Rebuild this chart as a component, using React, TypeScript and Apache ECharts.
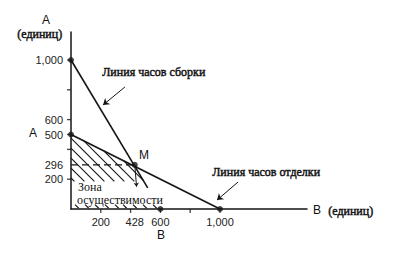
import React, { useEffect, useRef } from "react";
import * as echarts from "echarts";

// Data (units of A and B)
const assemblyLine: number[][] = [[0, 1000], [515, 142]]; // line of assembly hours (drawn part)
const finishingLine: number[][] = [[0, 500], [1000, 0]]; // line of finishing hours
const keyPoints: number[][] = [[0, 1000], [0, 500], [600, 0], [1000, 0], [428, 296]];
const optimumM: number[] = [428, 296];
const xLabelValues = [200, 428, 600, 1000];
const xTickValues = [200, 400, 600, 800, 1000];
const yLabelValues = [200, 296, 500, 600, 1000];
const yTickValues = [200, 400, 500, 600, 800, 1000];
const hatchOffsets = [208, 275, 342, 409, 476, 543, 610, 677];
const hatchBottomStarts = [27, 94, 161, 228, 295, 349, 416, 483, 550];
const arrowAssembly: number[][] = [[362, 819], [215, 698]];
const arrowFinishing: number[][] = [[1121, 181], [980, 60]];
const pointerM: number[][] = [[428, 296], [440, 150]];
const hatchFloor = 185;

function fmt(v: number): string {
  return v >= 1000 ? "1,000" : String(v);
}

function hatchSegments(): number[][][] {
  const segs: number[][][] = [];
  for (const c of hatchOffsets) {
    const x0 = c <= 500 ? 0 : 2 * (c - 500);
    const x1 = Math.min(c - hatchFloor, 1.5 * (1000 - c));
    if (x1 > x0) segs.push([[x0, c - x0], [x1, c - x1]]);
  }
  for (const s of hatchBottomStarts) {
    segs.push([[s, 30], [s + 25, 5]]);
  }
  return segs;
}

const sans = "'Liberation Sans', Arial, sans-serif";
const serif = "'Liberation Serif', 'DejaVu Serif', serif";

function txt(text: string, left: number, top: number, family: string, size: number, heavy: boolean = false) {
  return {
    type: "text",
    left,
    top,
    style: {
      text,
      fontFamily: family,
      fontSize: size,
      fill: "#111",
      stroke: heavy ? "#111" : undefined,
      lineWidth: heavy ? 0.45 : 0,
    },
  };
}

export default function App() {
  const ref = useRef<HTMLDivElement>(null);
  useEffect(() => {
    if (!ref.current) return;
    const chart = echarts.init(ref.current, null, { renderer: "svg" });
    const ink = "#151515";
    chart.setOption({
      animation: false,
      backgroundColor: "#ffffff",
      grid: { left: 71, top: 32, right: 103, bottom: 54 },
      xAxis: {
        type: "value",
        min: 0,
        max: 1584,
        splitLine: { show: false },
        axisLine: { lineStyle: { color: ink, width: 1.5 } },
        axisTick: { show: false },
        axisLabel: {
          customValues: xLabelValues,
          formatter: (v: number) => fmt(v),
          color: "#222",
          fontFamily: sans,
          fontSize: 11,
          margin: 7,
        },
      },
      yAxis: {
        type: "value",
        min: 0,
        max: 1188,
        splitLine: { show: false },
        axisLine: { lineStyle: { color: ink, width: 1.5 } },
        axisTick: { show: false },
        axisLabel: {
          customValues: yLabelValues,
          formatter: (v: number) => fmt(v),
          color: "#222",
          fontFamily: sans,
          fontSize: 11,
          margin: 8,
        },
      },
      series: [
        {
          type: "scatter",
          silent: true,
          data: xTickValues.map((v) => [v, 0]),
          symbol: "rect",
          symbolSize: [1.3, 4],
          symbolOffset: [0, 2],
          itemStyle: { color: ink },
        },
        {
          type: "scatter",
          silent: true,
          data: yTickValues.map((v) => [0, v]),
          symbol: "rect",
          symbolSize: [4, 1.3],
          symbolOffset: [-2, 0],
          itemStyle: { color: ink },
        },
        {
          type: "lines",
          coordinateSystem: "cartesian2d",
          silent: true,
          lineStyle: { color: ink, width: 1.1, opacity: 1 },
          data: hatchSegments().map((s) => ({ coords: s })),
        },
        {
          type: "line",
          data: [[0, optimumM[1]], optimumM],
          symbol: "none",
          lineStyle: { color: ink, width: 1.2, type: [7, 4] },
        },
        {
          type: "line",
          data: assemblyLine,
          symbol: "none",
          lineStyle: { color: ink, width: 1.6 },
        },
        {
          type: "line",
          data: finishingLine,
          symbol: "none",
          lineStyle: { color: ink, width: 1.6 },
        },
        {
          type: "lines",
          coordinateSystem: "cartesian2d",
          silent: true,
          symbol: ["none", "arrow"],
          symbolSize: 6,
          lineStyle: { color: ink, width: 1, opacity: 1 },
          data: [
            { coords: arrowAssembly },
            { coords: arrowFinishing },
            { coords: pointerM, symbolSize: 4 },
          ],
        },
        {
          type: "scatter",
          data: keyPoints,
          symbol: "circle",
          symbolSize: 6,
          itemStyle: { color: ink },
          z: 5,
        },
      ],
      graphic: [
        txt("A", 42, 14, sans, 12),
        txt("(единиц)", 17, 28, serif, 12, true),
        txt("A", 29, 127, sans, 12),
        txt("B", 313, 204, sans, 12),
        txt("(единиц)", 328, 205, serif, 12, true),
        txt("B", 157, 229, sans, 12),
        txt("M", 139, 149, sans, 12),
        txt("Линия часов сборки", 102, 66, serif, 12, true),
        txt("Линия часов отделки", 212, 166, serif, 12, true),
        txt("Зона", 78, 181, serif, 12),
        txt("осуществимости", 77, 194, serif, 12),
      ],
    });
    return () => chart.dispose();
  }, []);
  return (
    <div
      ref={ref}
      style={{ position: "fixed", left: 0, top: 0, width: 410, height: 263, background: "#fff" }}
    />
  );
}
